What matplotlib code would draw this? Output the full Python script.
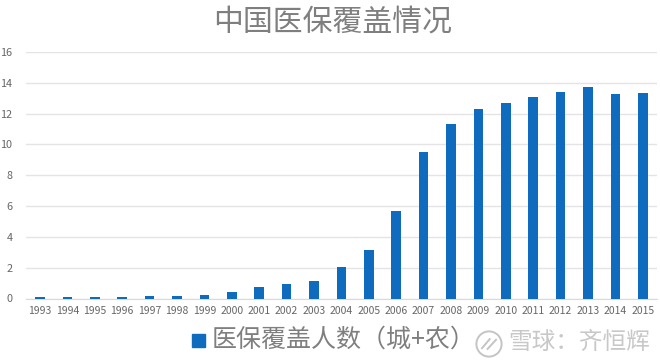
import matplotlib
matplotlib.use("Agg")
import matplotlib.pyplot as plt
from matplotlib.patches import Rectangle, Circle

plt.rcParams['font.family'] = ['Noto Sans CJK SC', 'DejaVu Sans']

W, H = 660, 360

# Data
years = [str(y) for y in range(1993, 2016)]
coverage = [0.08, 0.08, 0.08, 0.08, 0.18, 0.18, 0.22, 0.4, 0.75, 0.97, 1.13, 2.05,
            3.17, 5.7, 9.5, 11.35, 12.3, 12.7, 13.05, 13.4, 13.7, 13.3, 13.35]
y_ticks = [0, 2, 4, 6, 8, 10, 12, 14, 16]
title = "中国医保覆盖情况"
series_name = "医保覆盖人数（城+农）"
watermark = "雪球：齐恒辉"

BLUE = "#0e6bbd"
GREY = "#7f7f7f"

fig = plt.figure(figsize=(W / 100, H / 100), dpi=100)

# axes placed by pixel position
left, right, top, bottom = 26.3, 656.5, 52, 298.5
ax = fig.add_axes([left / W, 1 - bottom / H, (right - left) / W, (bottom - top) / H])

x = range(len(years))
ax.bar(x, coverage, width=0.35, color=BLUE, zorder=3)

ax.set_xlim(-0.5, len(years) - 0.5)
ax.set_ylim(0, 16)
ax.set_xticks(list(x))
ax.set_xticklabels(years, fontsize=7.5, color="#666666")
ax.set_yticks(y_ticks)
ax.set_yticklabels([str(v) for v in y_ticks], fontsize=7.8, color="#666666")
ax.tick_params(axis='both', length=0)
ax.tick_params(axis='x', pad=5.5)
ax.tick_params(axis='y', pad=10)

ax.grid(axis='y', color="#e4e4e4", linewidth=1, zorder=0)
for s in ['top', 'right', 'left']:
    ax.spines[s].set_visible(False)
ax.spines['bottom'].set_color("#d9d9d9")

fig.text(333 / W, 1 - 22 / H, title, fontsize=21.5, color=GREY, ha='center', va='center')

# legend drawn by hand so the big marker and text sit where the original has them
fig.add_artist(Rectangle((192 / W, 1 - 347 / H), 13 / W, 13 / H, color=BLUE,
                         transform=fig.transFigure))
fig.text(212 / W, 1 - 340 / H, series_name, fontsize=18, color=GREY, ha='left', va='center')

# watermark
wm_ax = fig.add_axes([475 / W, 1 - 358 / H, 28 / W, 28 / H])
wm_ax.set_xlim(-1, 1)
wm_ax.set_ylim(-1, 1)
wm_ax.axis('off')
wm_ax.add_patch(Circle((0, 0), 0.9, fill=False, edgecolor="#c4c4c4", linewidth=1.4))
wm_ax.plot([-0.5, 0.05], [-0.3, 0.35], color="#c4c4c4", linewidth=1.4)
wm_ax.plot([-0.1, 0.5], [-0.35, 0.3], color="#c4c4c4", linewidth=1.4)
fig.text(508 / W, 1 - 342 / H, watermark, fontsize=17, color="#c8c8c8", ha='left', va='center')

fig.savefig("out.png", dpi=100)
